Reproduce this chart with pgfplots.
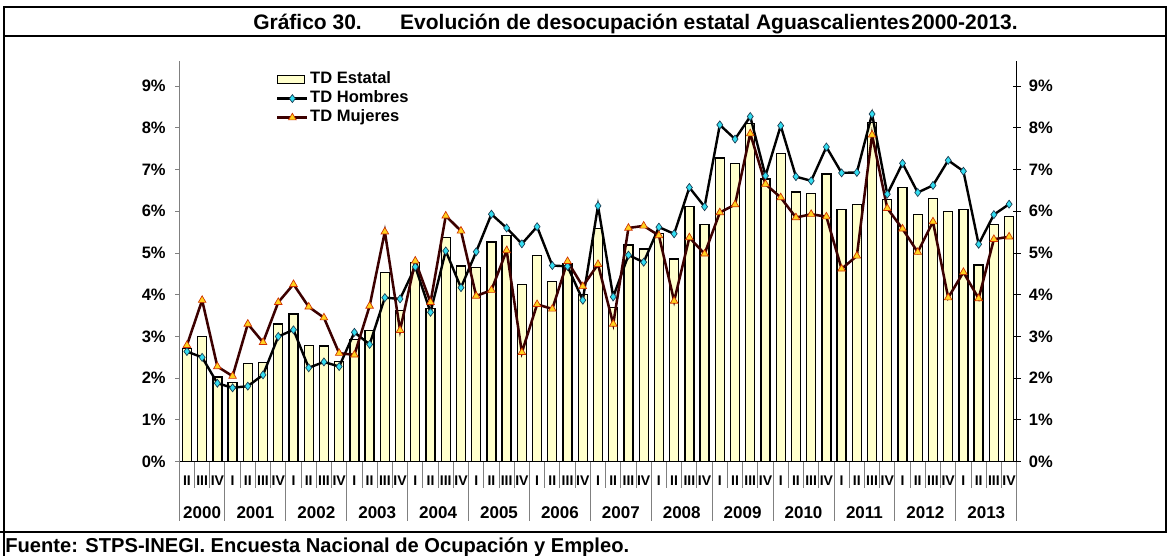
\documentclass[border=0pt]{standalone}
\usepackage{pgfplots}
\pgfplotsset{compat=1.18}
\usepackage{pgfplotstable}
\usepackage{fontspec}
\setmainfont{Liberation Sans}
\definecolor{barfill}{HTML}{FFFFCC}
\definecolor{hcol}{HTML}{33DDF0}
\definecolor{hedge}{HTML}{1A3A50}
\definecolor{mline}{HTML}{3C0000}
\definecolor{mfill}{HTML}{FFD21F}
\definecolor{medge}{HTML}{D03000}
\definecolor{sepgray}{HTML}{808080}

\pgfplotstableread{
i E H M
0 2.72 2.64 2.79
1 3.00 2.50 3.87
2 2.03 1.88 2.28
3 1.90 1.77 2.05
4 2.36 1.81 3.30
5 2.38 2.08 2.86
6 3.30 3.00 3.82
7 3.54 3.16 4.25
8 2.79 2.25 3.71
9 2.77 2.39 3.45
10 2.40 2.28 2.60
11 2.93 3.10 2.56
12 3.14 2.81 3.73
13 4.53 3.93 5.51
14 3.63 3.90 3.15
15 4.77 4.67 4.81
16 3.67 3.58 3.82
17 5.37 5.05 5.89
18 4.69 4.17 5.53
19 4.65 5.03 3.97
20 5.26 5.93 4.11
21 5.42 5.60 5.06
22 4.25 5.22 2.62
23 4.94 5.63 3.77
24 4.32 4.70 3.66
25 4.75 4.68 4.80
26 4.01 3.87 4.20
27 5.59 6.13 4.73
28 3.70 3.95 3.30
29 5.19 4.95 5.60
30 5.10 4.78 5.65
31 5.47 5.62 5.42
32 4.86 5.46 3.85
33 6.11 6.57 5.37
34 5.68 6.11 4.98
35 7.28 8.07 5.97
36 7.14 7.73 6.16
37 8.11 8.27 7.86
38 6.77 6.85 6.65
39 7.39 8.05 6.33
40 6.46 6.83 5.85
41 6.42 6.73 5.93
42 6.89 7.54 5.87
43 6.05 6.92 4.62
44 6.17 6.93 4.93
45 8.13 8.33 7.83
46 6.29 6.41 6.07
47 6.57 7.15 5.58
48 5.93 6.45 5.02
49 6.30 6.62 5.75
50 5.99 7.22 3.93
51 6.05 6.96 4.54
52 4.71 5.21 3.91
53 5.68 5.92 5.33
54 5.87 6.17 5.39
}\data

\pgfplotsset{
  mybarlegend/.style={legend image code/.code={\draw[##1, line width=1pt] (0pt,-3pt) rectangle (20.25pt,3pt);}},
  mylinelegend/.style={legend image code/.code={\draw[mark repeat=2,mark phase=2,##1] plot coordinates {(0pt,0pt) (11.25pt,0pt) (22.5pt,0pt)};}},
}

\begin{document}
\begin{tikzpicture}[x=0.75pt,y=0.75pt]
\path[use as bounding box] (0,0) rectangle (1167,556);
% frame
\draw[line width=1.1pt] (4,549) -- (1167,549);
\draw[line width=1.1pt] (4,520) -- (1167,520);
\draw[line width=1.1pt] (4,549.5) -- (4,0);
\draw[line width=0.8pt] (1166,549) -- (1166,24);
\draw[line width=1.9pt] (0,24) -- (1167,24);
% title
\node[anchor=base west, inner sep=0pt, font=\fontsize{15.75}{18}\selectfont\bfseries] at (253,526.7) {Gráfico 30.};
\node[anchor=base east, inner sep=0pt, font=\fontsize{15.75}{18}\selectfont\bfseries] at (1018,526.7) {Evolución de desocupación estatal Aguascalientes\kern1pt 2000-2013.};
% source
\node[anchor=base west, inner sep=0pt, font=\fontsize{15.1}{18}\selectfont\bfseries] at (5,3.5) {Fuente: STPS-INEGI. Encuesta Nacional de Ocupación y Empleo.};

\begin{axis}[
  at={(134.475pt,70.725pt)}, anchor=south west,
  scale only axis, width=628.05pt, height=300.5pt,
  xmin=-0.5, xmax=54.5, ymin=0, ymax=9.6,
  clip=false,
  axis x line*=bottom, axis y line*=left,
  x axis line style={line width=0.9pt, black},
  y axis line style={line width=0.75pt, sepgray},
  ytick={0,1,...,9},
  yticklabel={\pgfmathprintnumber{\tick}\%},
  /pgf/number format/assume math mode=true,
  ytick style={draw=sepgray, line width=0.75pt},
  tick align=outside,
  major tick length=3pt,
  yticklabel style={font=\fontsize{12.4}{14}\selectfont\bfseries, inner sep=0pt, anchor=east, xshift=-7pt},
  xtick={0,1,...,54},
  xtick style={draw=none},
  xticklabels={II,III,IV,I,II,III,IV,I,II,III,IV,I,II,III,IV,I,II,III,IV,I,II,III,IV,I,II,III,IV,I,II,III,IV,I,II,III,IV,I,II,III,IV,I,II,III,IV,I,II,III,IV,I,II,III,IV,I,II,III,IV},
  xticklabel style={font=\fontsize{10.5}{12}\selectfont\bfseries, inner sep=0pt, anchor=center, yshift=-11pt},
  legend style={at={(axis description cs:0.1105,0.985)}, anchor=north west, draw=none, fill=none,
    font=\fontsize{12.4}{14}\selectfont\bfseries, row sep=0pt,
    nodes={inner sep=1.2pt, text height=8.9pt, text depth=3pt}},
  legend cell align=left,
]
% separators
\pgfplotsinvokeforeach{0.5,1.5,...,53.5}{
  \draw[sepgray, line width=0.75pt] (axis cs:#1,0) -- ++(0pt,-19.5pt);
}
\pgfplotsinvokeforeach{-0.5,2.5,6.5,10.5,14.5,18.5,22.5,26.5,30.5,34.5,38.5,42.5,46.5,50.5,54.5}{
  \draw[sepgray, line width=0.75pt] (axis cs:#1,0) -- ++(0pt,-44.6pt);
}
\addplot[ybar, bar shift=0pt, bar width=6.75pt, fill=barfill, draw=black, line width=1pt, mybarlegend]
  table[x=i, y=E] {\data};
\addlegendentry{TD Estatal}
\addplot[black, line width=1.8pt, mark=diamond*, mark size=3pt,
  mark options={fill=hcol, draw=hedge, line width=0.5pt}, mylinelegend]
  table[x=i, y=H] {\data};
\addlegendentry{TD Hombres}
\addplot[mline, line width=1.9pt, mark=triangle*, mark size=3.3pt,
  mark options={fill=mfill, draw=medge, line width=0.5pt}, mylinelegend]
  table[x=i, y=M] {\data};
\addlegendentry{TD Mujeres}
% year labels
\node[font=\fontsize{12.75}{14}\selectfont\bfseries, yshift=-37.9pt] at (axis cs:1,0) {2000};
\node[font=\fontsize{12.75}{14}\selectfont\bfseries, yshift=-37.9pt] at (axis cs:4.5,0) {2001};
\node[font=\fontsize{12.75}{14}\selectfont\bfseries, yshift=-37.9pt] at (axis cs:8.5,0) {2002};
\node[font=\fontsize{12.75}{14}\selectfont\bfseries, yshift=-37.9pt] at (axis cs:12.5,0) {2003};
\node[font=\fontsize{12.75}{14}\selectfont\bfseries, yshift=-37.9pt] at (axis cs:16.5,0) {2004};
\node[font=\fontsize{12.75}{14}\selectfont\bfseries, yshift=-37.9pt] at (axis cs:20.5,0) {2005};
\node[font=\fontsize{12.75}{14}\selectfont\bfseries, yshift=-37.9pt] at (axis cs:24.5,0) {2006};
\node[font=\fontsize{12.75}{14}\selectfont\bfseries, yshift=-37.9pt] at (axis cs:28.5,0) {2007};
\node[font=\fontsize{12.75}{14}\selectfont\bfseries, yshift=-37.9pt] at (axis cs:32.5,0) {2008};
\node[font=\fontsize{12.75}{14}\selectfont\bfseries, yshift=-37.9pt] at (axis cs:36.5,0) {2009};
\node[font=\fontsize{12.75}{14}\selectfont\bfseries, yshift=-37.9pt] at (axis cs:40.5,0) {2010};
\node[font=\fontsize{12.75}{14}\selectfont\bfseries, yshift=-37.9pt] at (axis cs:44.5,0) {2011};
\node[font=\fontsize{12.75}{14}\selectfont\bfseries, yshift=-37.9pt] at (axis cs:48.5,0) {2012};
\node[font=\fontsize{12.75}{14}\selectfont\bfseries, yshift=-37.9pt] at (axis cs:52.5,0) {2013};
\end{axis}

\begin{axis}[
  at={(134.475pt,70.725pt)}, anchor=south west,
  scale only axis, width=628.05pt, height=300.5pt,
  xmin=-0.5, xmax=54.5, ymin=0, ymax=9.6,
  axis y line*=right, axis x line=none,
  y axis line style={line width=0.9pt, black},
  ytick={0,1,...,9},
  yticklabel={\pgfmathprintnumber{\tick}\%},
  /pgf/number format/assume math mode=true,
  ytick style={draw=black, line width=0.75pt},
  tick align=center,
  major tick length=6pt,
  yticklabel style={font=\fontsize{12.4}{14}\selectfont\bfseries, inner sep=0pt, anchor=west, xshift=6pt},
]
\addplot[draw=none, forget plot] coordinates {(0,0)};
\end{axis}
\end{tikzpicture}
\end{document}
